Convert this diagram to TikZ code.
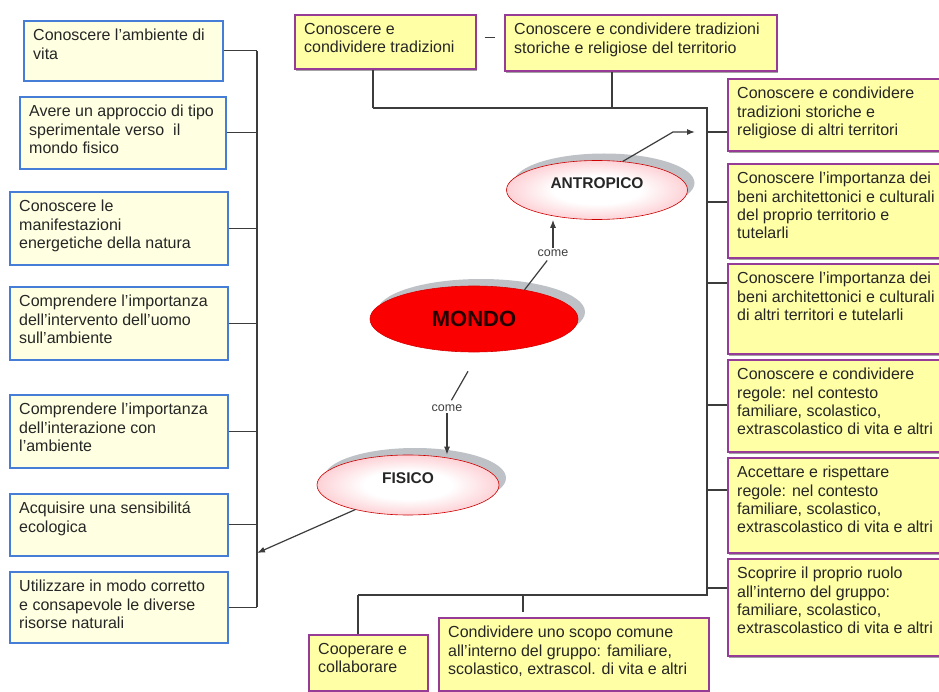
\documentclass[tikz,border=0pt]{standalone}
\usepackage{fontspec}
\setmainfont{Liberation Sans}
\usetikzlibrary{arrows.meta,shapes.geometric,shadows}

\definecolor{lfill}{RGB}{255,255,225}
\definecolor{lborder}{RGB}{70,125,215}
\definecolor{rfill}{RGB}{255,255,165}
\definecolor{rborder}{RGB}{150,60,150}
\definecolor{ellshadow}{RGB}{190,194,198}
\definecolor{mondored}{RGB}{250,0,0}
\definecolor{pinkmid}{RGB}{252,185,192}
\definecolor{pinkedge}{RGB}{232,80,95}
\definecolor{linegray}{RGB}{60,60,60}

% white core fading to a pink rim, fitted to the ellipse
\pgfdeclareradialshading{pinkoval}{\pgfpoint{0bp}{0bp}}{%
  color(0bp)=(white); color(12bp)=(white); color(32bp)=(pinkmid);
  color(46bp)=(pinkedge); color(60bp)=(pinkedge)}

\tikzset{
  lbox/.style={rectangle, draw=lborder, line width=1.6pt, fill=lfill, inner sep=0pt,
    drop shadow={shadow xshift=1.2pt, shadow yshift=-1.5pt, fill=black!45, opacity=0.5}},
  rbox/.style={rectangle, draw=rborder, line width=1.6pt, fill=rfill, inner sep=0pt,
    drop shadow={shadow xshift=1.2pt, shadow yshift=-1.8pt, fill=black!60, opacity=0.6}},
  boxtext/.style={font=\fontsize{16}{18.3}\selectfont, align=left, inner sep=0pt, text=black!85},
  conn/.style={draw=linegray, line width=1.2pt},
  arr/.style={-{Latex[length=8pt,width=6pt]}},
  cometext/.style={font=\fontsize{12.5}{14}\selectfont, text=black!75, inner sep=1.5pt},
  oval/.style={ellipse, inner sep=0pt,
    general shadow={shadow xshift=7pt, shadow yshift=7pt, fill=ellshadow}},
  lightoval/.style={oval, shading=pinkoval, draw=red!80!black, line width=0.6pt,
    font=\bfseries\fontsize{15.5}{18}\selectfont, text=black!85, text height=11pt, text depth=14pt},
}

% box with its text set from the top left corner
% #1 style, #2 name, #3 x, #4 y, #5 width, #6 height, #7 text
\newcommand\textbox[7]{%
  \node[#1, minimum width=#5pt, minimum height=#6pt, anchor=north west] (#2) at (#3,#4) {};
  \node[boxtext, anchor=north west] at ([xshift=10pt,yshift=-9pt]#2.north west) {#7};
}

\begin{document}
\begin{tikzpicture}[x=1pt,y=-1pt]
\useasboundingbox (0,0) rectangle (939,692);
\fill[white] (0,0) rectangle (939,692);

% left column
\textbox{lbox}{l1}{23}{20}{199}{60}{Conoscere l'ambiente di\\vita}
\textbox{lbox}{l2}{19}{96}{206}{72}{Avere un approccio di tipo\\sperimentale verso~ il\\mondo fisico}
\textbox{lbox}{l3}{9}{191}{218}{73}{Conoscere le\\manifestazioni\\energetiche della natura}
\textbox{lbox}{l4}{9}{286}{218}{73}{Comprendere l'importanza\\dell'intervento dell'uomo\\sull'ambiente}
\textbox{lbox}{l5}{9}{394}{218}{73}{Comprendere l'importanza\\dell'interazione con\\l'ambiente}
\textbox{lbox}{l6}{9}{493}{218}{62}{Acquisire una sensibilitá\\ecologica}
\textbox{lbox}{l7}{9}{571}{218}{71}{Utilizzare in modo corretto\\e consapevole le diverse\\risorse naturali}

% top row
\textbox{rbox}{t1}{294}{14}{181}{54}{Conoscere e\\condividere tradizioni}
\textbox{rbox}{t2}{504}{14}{272}{56}{Conoscere e condividere tradizioni\\storiche e religiose del territorio}

% right column
\textbox{rbox}{r1}{727}{78}{216}{72}{Conoscere e condividere\\tradizioni storiche e\\religiose di altri territori}
\textbox{rbox}{r2}{727}{163}{216}{94}{Conoscere l'importanza dei\\beni architettonici e culturali\\del proprio territorio e\\tutelarli}
\textbox{rbox}{r3}{727}{263}{216}{90}{Conoscere l'importanza dei\\beni architettonici e culturali\\di altri territori e tutelarli}
\textbox{rbox}{r4}{727}{359}{216}{92}{Conoscere e condividere\\regole: nel contesto\\familiare, scolastico,\\extrascolastico di vita e altri}
\textbox{rbox}{r5}{727}{457}{216}{95}{Accettare e rispettare\\regole: nel contesto\\familiare, scolastico,\\extrascolastico di vita e altri}
\textbox{rbox}{r6}{727}{558}{216}{97}{Scoprire il proprio ruolo\\all'interno del gruppo:\\familiare, scolastico,\\extrascolastico di vita e altri}

% bottom row
\textbox{rbox}{b1}{308}{634}{119}{56}{Cooperare e\\collaborare}
\textbox{rbox}{b2}{438}{617}{270}{73}{Condividere uno scopo comune\\all'interno del gruppo: familiare,\\scolastico, extrascol. di vita e altri}

% central ovals
\node[oval, minimum width=208pt, minimum height=66pt, fill=mondored, draw=red!85!black,
  line width=0.6pt, font=\bfseries\fontsize{22}{24}\selectfont, text=black!85!red]
  (mondo) at (474,319) {MONDO};
\node[lightoval, minimum width=181pt, minimum height=59pt] (antropico) at (597,190) {ANTROPICO};
\node[lightoval, minimum width=182pt, minimum height=60pt] (fisico) at (408,485) {FISICO};

% left bus
\coordinate (lb) at (257,0);
\draw[conn] (l1.east -| lb) -- (l7.east -| lb);
\foreach \b in {l1,l2,l3,l4,l5,l6,l7} \draw[conn] (\b.east) -- (\b.east -| lb);

% frame joining the top, right and bottom boxes
\coordinate (tl) at (373,108);
\coordinate (tm) at (612,108);
\coordinate (tr) at (707,108);
\coordinate (br) at (707,595);
\coordinate (bl) at (358,595);
\coordinate (bm) at (523,595);
\draw[conn] (tl) -- (tr) -- (br) -- (bl);
\draw[conn] (t1.south -| tl) -- (tl);
\draw[conn] (t2.south -| tm) -- (tm);
\draw[conn] (bl) -- (bl |- b1.north);
\draw[conn] (bm) -- ([yshift=5pt]bm |- b2.north);
\draw[conn] ([xshift=8pt,yshift=4pt]t1.east) -- ++(10,0);
\foreach \b/\yy in {r1/132,r2/202,r3/283,r4/405,r5/490,r6/588}
  \draw[conn] (tr |- 0,\yy) -- (\b.west |- 0,\yy);

% links from MONDO
\node[cometext] (come1) at (553,253) {come};
\draw[conn, shorten >=3pt] (mondo.30) -- (come1);
\draw[conn, arr] (come1.north) -- (come1.north |- antropico.south);

\node[cometext] (come2) at (447,408) {come};
\draw[conn, shorten >=3pt] ([xshift=-6pt,yshift=-19pt]mondo.south) -- (come2);
\draw[conn, arr] (come2.south) -- (come2.south |- fisico.north);

% links to the frames
\coordinate (a1) at (673,132);
\draw[conn, arr] (antropico.48) -- (a1) -- ([xshift=-12pt]tr |- a1);
\draw[conn, arr] (fisico.205) -- (lb |- 0,553);
\end{tikzpicture}
\end{document}
